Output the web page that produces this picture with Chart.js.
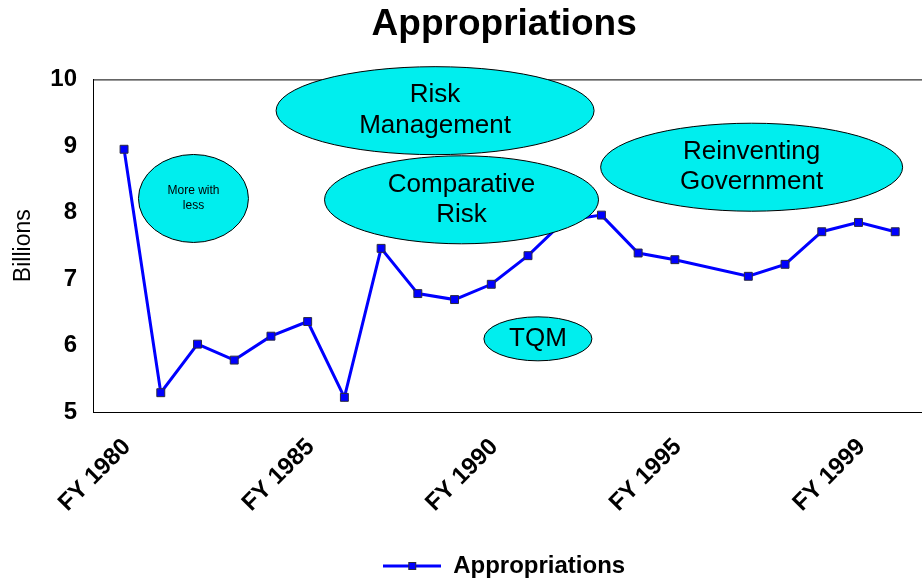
<!DOCTYPE html>
<html>
<head>
<meta charset="utf-8">
<title>Appropriations</title>
<script src="https://cdn.jsdelivr.net/npm/chart.js@4"></script>
<style>
    html, body { margin: 0; padding: 0; background: #fff; }
    #wrap { width: 922px; height: 584px; }
</style>
</head>
<body>
<div id="wrap"><canvas id="approChart" width="922" height="584"></canvas></div>
<script>
// Appropriations by fiscal year (billions)
const categories = ['FY 1980', 'FY 1981', 'FY 1982', 'FY 1983', 'FY 1984', 'FY 1985',
    'FY 1986', 'FY 1987', 'FY 1988', 'FY 1989', 'FY 1990', 'FY 1991', 'FY 1992',
    'FY 1993', 'FY 1994', 'FY 1995', '', 'FY 1996', 'FY 1997', 'FY 1998', 'FY 1999', 'FY 2000'];
const appropriations = [8.95, 5.29, 6.02, 5.78, 6.14, 6.36, 5.22, 7.46, 6.78, 6.69, 6.92,
    7.35, 7.88, 7.96, 7.39, 7.29, null, 7.04, 7.22, 7.71, 7.85, 7.71];
const tickIndexes = [0, 5, 10, 15, 20];
const yTicks = [5, 6, 7, 8, 9, 10];

// Callout ellipses (centre in data units, radii in pixels)
const notes = [
    { lines: ['More with', 'less'], x: 1.89, y: 8.21, rx: 55, ry: 44, size: 12, gap: 15 },
    { lines: ['Risk', 'Management'], x: 8.47, y: 9.53, rx: 159, ry: 44, size: 26, gap: 31 },
    { lines: ['Comparative', 'Risk'], x: 9.19, y: 8.19, rx: 137, ry: 44, size: 26, gap: 30 },
    { lines: ['TQM'], x: 11.27, y: 6.10, rx: 54, ry: 22, size: 26, gap: 30 },
    { lines: ['Reinventing', 'Government'], x: 17.09, y: 8.68, rx: 151, ry: 44, size: 26, gap: 30 }
];

const FONT = "'Liberation Sans', Arial, sans-serif";
Chart.defaults.font.family = FONT;
Chart.defaults.color = '#000';

// legend marker: line with a square in the middle
function legendMarker() {
    const c = document.createElement('canvas');
    c.width = 58;
    c.height = 12;
    const g = c.getContext('2d');
    g.strokeStyle = '#0000FF';
    g.lineWidth = 3;
    g.beginPath();
    g.moveTo(0, 6);
    g.lineTo(58, 6);
    g.stroke();
    g.fillStyle = '#0000FF';
    g.fillRect(25, 2, 8, 8);
    g.strokeStyle = '#2a2a40';
    g.lineWidth = 1;
    g.strokeRect(25.5, 2.5, 7, 7);
    return c;
}

// frame around the plot area (top edge; right edge runs off the canvas)
const framePlugin = {
    id: 'frame',
    beforeDatasetsDraw(chart) {
        const a = chart.chartArea;
        const ctx = chart.ctx;
        ctx.save();
        ctx.strokeStyle = '#000';
        ctx.lineWidth = 1;
        ctx.strokeRect(a.left + 0.5, a.top + 0.5, a.right - a.left + 10, a.bottom - a.top);
        ctx.restore();
    }
};

const notesPlugin = {
    id: 'notes',
    afterDatasetsDraw(chart) {
        const ctx = chart.ctx;
        const xs = chart.scales.x;
        const ys = chart.scales.y;
        ctx.save();
        notes.forEach(n => {
            const cx = xs.getPixelForValue(n.x);
            const cy = ys.getPixelForValue(n.y);
            ctx.beginPath();
            ctx.ellipse(cx, cy, n.rx, n.ry, 0, 0, Math.PI * 2);
            ctx.fillStyle = '#00EEEE';
            ctx.fill();
            ctx.strokeStyle = '#000';
            ctx.lineWidth = 1;
            ctx.stroke();
            ctx.fillStyle = '#000';
            ctx.font = `${n.size}px ${FONT}`;
            ctx.textAlign = 'center';
            ctx.textBaseline = 'middle';
            const startY = cy - (n.lines.length - 1) * n.gap / 2;
            n.lines.forEach((t, i) => ctx.fillText(t, cx, startY + i * n.gap));
        });
        ctx.restore();
    }
};

const points = appropriations.map((v, i) => ({ x: i, y: v }));

const ctx = document.getElementById('approChart').getContext('2d');
const approChart = new Chart(ctx, {
    type: 'line',
    data: {
        datasets: [{
            label: 'Appropriations',
            data: points,
            borderColor: '#0000FF',
            backgroundColor: '#0000FF',
            borderWidth: 3,
            tension: 0,
            spanGaps: true,
            pointStyle: 'rect',
            pointRadius: 5.6,
            pointBorderColor: '#2a2a40',
            pointBorderWidth: 1,
            pointBackgroundColor: '#0000FF'
        }]
    },
    options: {
        responsive: false,
        animation: false,
        layout: { padding: { top: 0, left: 0, right: 0, bottom: -4 } },
        plugins: {
            title: {
                display: true,
                text: 'Appropriations',
                fullSize: false,
                font: { size: 37, weight: 'bold' },
                color: '#000',
                padding: { top: 3, bottom: 32 }
            },
            legend: {
                display: true,
                position: 'bottom',
                fullSize: false,
                labels: {
                    usePointStyle: true,
                    pointStyle: legendMarker(),
                    pointStyleWidth: 58,
                    font: { size: 24, weight: 'bold' },
                    color: '#000',
                    padding: 2
                }
            },
            tooltip: { enabled: false }
        },
        scales: {
            x: {
                type: 'linear',
                min: -0.846,
                max: 21.55,
                grid: { display: false },
                border: { display: true, color: '#000', width: 1 },
                afterBuildTicks: scale => {
                    scale.ticks = tickIndexes.map(v => ({ value: v }));
                },
                afterFit: scale => { scale.height = 140; },
                ticks: {
                    autoSkip: false,
                    minRotation: 45,
                    maxRotation: 45,
                    padding: 13,
                    labelOffset: 3,
                    font: { size: 24, weight: 'bold' },
                    color: '#000',
                    callback: value => categories[value]
                }
            },
            y: {
                min: 5,
                max: 10,
                grid: { display: false, drawTicks: false },
                border: { display: true, color: '#000', width: 1 },
                afterBuildTicks: scale => {
                    scale.ticks = yTicks.map(v => ({ value: v }));
                },
                afterFit: scale => { scale.width = 93; },
                ticks: {
                    padding: 16,
                    font: { size: 24, weight: 'bold' },
                    color: '#000'
                },
                title: {
                    display: true,
                    text: 'Billions',
                    font: { size: 23 },
                    color: '#000',
                    padding: { top: 10, bottom: 0 }
                }
            }
        }
    },
    plugins: [framePlugin, notesPlugin]
});
</script>
</body>
</html>
